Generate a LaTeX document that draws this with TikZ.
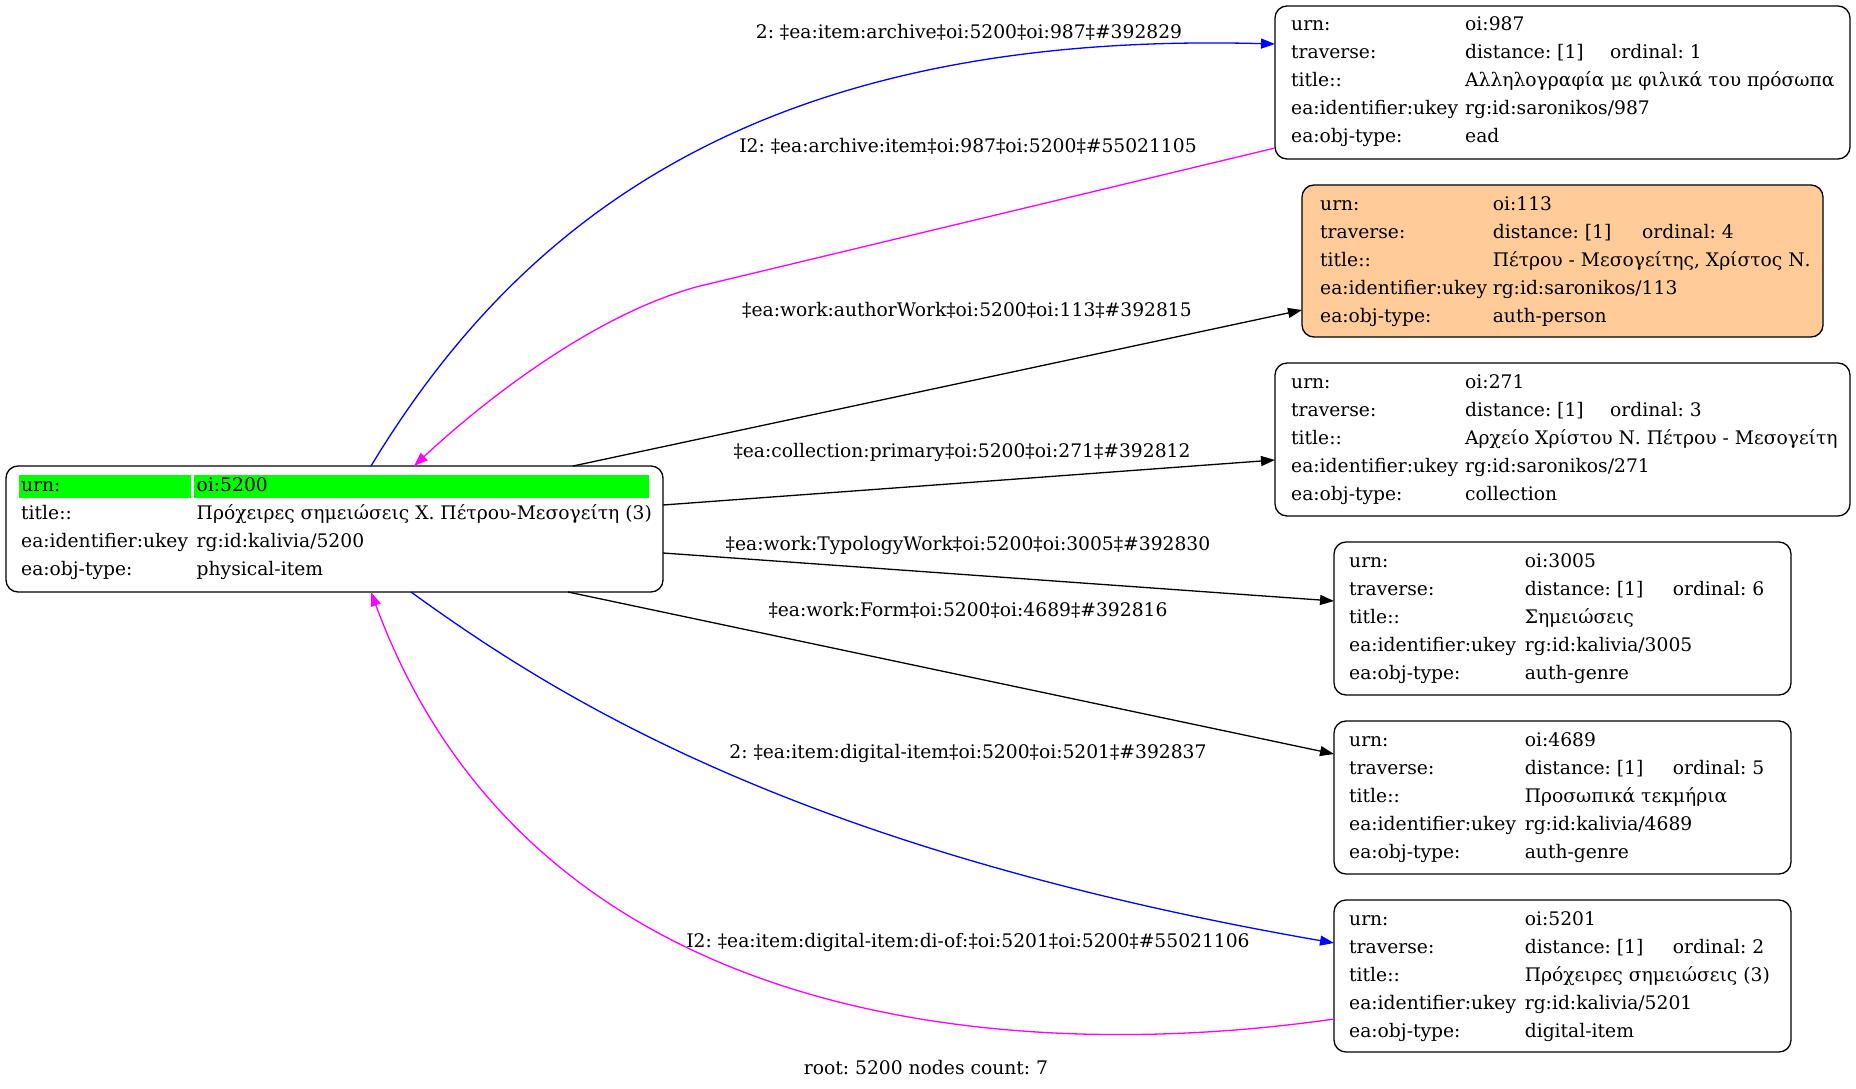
\documentclass[tikz,border=0pt]{standalone}
\usepackage{fontspec}
\setmainfont{DejaVu Serif}
\usetikzlibrary{arrows.meta,calc}
\definecolor{peach}{RGB}{255,204,153}
\definecolor{lime}{RGB}{0,255,0}
\definecolor{eblue}{RGB}{0,0,255}
\definecolor{emag}{RGB}{255,0,255}
\frenchspacing
\tikzset{
 rec/.style={draw=black, line width=1.3pt, rounded corners=12pt, anchor=north west, inner sep=0pt, outer sep=0pt},
 txt/.style={anchor=base west, inner sep=0pt, font=\fontsize{18.7pt}{22pt}\selectfont\frenchspacing},
 lbl/.style={inner sep=0pt, font=\fontsize{18.7pt}{22pt}\selectfont\frenchspacing},
 conn/.style={line width=1.3pt, -{Triangle[length=14pt,width=10pt]}},
}
\newcommand\LOff{16}
\newcommand\VOff{190}
\newcommand\rowt[4]{%
 \node[txt] at ($(#1.north west)+(\LOff,{25+28*#2})$) {#3};
 \node[txt] at ($(#1.north west)+(\VOff,{25+28*#2})$) {#4};
}
\newcommand\ordt[3]{%
 \node[txt] at ($(#1.north west)+(#2,53)$) {#3};
}
\begin{document}
\begin{tikzpicture}[x=1pt,y=-1pt]
\useasboundingbox (0,0) rectangle (1856,1089);
% boxes
\node[rec, minimum width=657pt, minimum height=126pt] (main) at (6,466) {};
\node[rec, minimum width=575pt, minimum height=153pt] (n987) at (1275,6) {};
\node[rec, fill=peach, minimum width=521pt, minimum height=152pt] (n113) at (1302,185) {};
\node[rec, minimum width=575pt, minimum height=153pt] (n271) at (1275,363) {};
\node[rec, minimum width=457pt, minimum height=153pt] (n3005) at (1334,542) {};
\node[rec, minimum width=457pt, minimum height=153pt] (n4689) at (1334,721) {};
\node[rec, minimum width=457pt, minimum height=152pt] (n5201) at (1334,900) {};
% main content
\fill[lime] ($(main.north west)+(13,9)$) rectangle ($(main.north west)+(184.5,32)$);
\fill[lime] ($(main.north west)+(188,9)$) rectangle ($(main.north west)+(643,32)$);
\renewcommand\LOff{15}\renewcommand\VOff{190.5}
\rowt{main}{0}{urn:}{oi:5200}
\rowt{main}{1}{title::}{Πρόχειρες σημειώσεις Χ. Πέτρου-Μεσογείτη (3)}
\rowt{main}{2}{ea:identifier:ukey}{rg:id:kalivia/5200}
\rowt{main}{3}{ea:obj-type:}{physical-item}
% 987
\renewcommand\LOff{16}\renewcommand\VOff{190}
\rowt{n987}{0}{urn:}{oi:987}
\rowt{n987}{1}{traverse:}{distance: [1]}
\ordt{n987}{335}{ordinal: 1}
\rowt{n987}{2}{title::}{Αλληλογραφία με φιλικά του πρόσωπα}
\rowt{n987}{3}{ea:identifier:ukey}{rg:id:saronikos/987}
\rowt{n987}{4}{ea:obj-type:}{ead}
% 113
\renewcommand\LOff{18}\renewcommand\VOff{190.6}
\rowt{n113}{0}{urn:}{oi:113}
\rowt{n113}{1}{traverse:}{distance: [1]}
\ordt{n113}{340}{ordinal: 4}
\rowt{n113}{2}{title::}{Πέτρου - Μεσογείτης, Χρίστος Ν.}
\rowt{n113}{3}{ea:identifier:ukey}{rg:id:saronikos/113}
\rowt{n113}{4}{ea:obj-type:}{auth-person}
% 271
\renewcommand\LOff{16}\renewcommand\VOff{190}
\rowt{n271}{0}{urn:}{oi:271}
\rowt{n271}{1}{traverse:}{distance: [1]}
\ordt{n271}{335}{ordinal: 3}
\rowt{n271}{2}{title::}{Αρχείο Χρίστου Ν. Πέτρου - Μεσογείτη}
\rowt{n271}{3}{ea:identifier:ukey}{rg:id:saronikos/271}
\rowt{n271}{4}{ea:obj-type:}{collection}
% 3005
\renewcommand\LOff{15}\renewcommand\VOff{190.6}
\rowt{n3005}{0}{urn:}{oi:3005}
\rowt{n3005}{1}{traverse:}{distance: [1]}
\ordt{n3005}{338.6}{ordinal: 6}
\rowt{n3005}{2}{title::}{Σημειώσεις}
\rowt{n3005}{3}{ea:identifier:ukey}{rg:id:kalivia/3005}
\rowt{n3005}{4}{ea:obj-type:}{auth-genre}
% 4689
\rowt{n4689}{0}{urn:}{oi:4689}
\rowt{n4689}{1}{traverse:}{distance: [1]}
\ordt{n4689}{338.6}{ordinal: 5}
\rowt{n4689}{2}{title::}{Προσωπικά τεκμήρια}
\rowt{n4689}{3}{ea:identifier:ukey}{rg:id:kalivia/4689}
\rowt{n4689}{4}{ea:obj-type:}{auth-genre}
% 5201
\rowt{n5201}{0}{urn:}{oi:5201}
\rowt{n5201}{1}{traverse:}{distance: [1]}
\ordt{n5201}{338.6}{ordinal: 2}
\rowt{n5201}{2}{title::}{Πρόχειρες σημειώσεις (3)}
\rowt{n5201}{3}{ea:identifier:ukey}{rg:id:kalivia/5201}
\rowt{n5201}{4}{ea:obj-type:}{digital-item}
% connectors
\draw[conn, eblue] ($(main.north west)+(365,0)$) .. controls (520,220) and (760,30) .. ($(n987.north west)+(0,38)$);
\draw[conn, emag] ($(n987.north west)+(0,142)$) -- (700,286) .. controls (600,312) and (490,395) .. ($(main.north west)+(408,0)$);
\draw[conn] ($(main.north west)+(567,0)$) -- ($(n113.north west)+(0,125)$);
\draw[conn] ($(main.north east)+(0,39)$) -- ($(n271.north west)+(0,97)$);
\draw[conn] ($(main.north east)+(0,87)$) -- ($(n3005.north west)+(0,59)$);
\draw[conn] ($(main.south west)+(562,0)$) -- ($(n4689.north west)+(0,33)$);
\draw[conn, eblue] ($(main.south west)+(405,0)$) .. controls (560,700) and (800,850) .. ($(n5201.north west)+(0,43)$);
\draw[conn, emag] ($(n5201.north west)+(0,119)$) .. controls (1050,1060) and (540,1050) .. ($(main.south west)+(365,0)$);
% labels
\node[lbl] (l1) at (969,32) {2: ‡ea:item:archive‡oi:5200‡oi:987‡\#392829};
\node[lbl] (l2) at (968,146) {I2: ‡ea:archive:item‡oi:987‡oi:5200‡\#55021105};
\node[lbl] (l3) at (967,310) {‡ea:work:authorWork‡oi:5200‡oi:113‡\#392815};
\node[lbl] (l4) at (962,452) {‡ea:collection:primary‡oi:5200‡oi:271‡\#392812};
\node[lbl] (l5) at (968,545) {‡ea:work:TypologyWork‡oi:5200‡oi:3005‡\#392830};
\node[lbl] (l6) at (968,610) {‡ea:work:Form‡oi:5200‡oi:4689‡\#392816};
\node[lbl] (l7) at (968,753) {2: ‡ea:item:digital-item‡oi:5200‡oi:5201‡\#392837};
\node[lbl] (l8) at (968,942) {I2: ‡ea:item:digital-item:di-of:‡oi:5201‡oi:5200‡\#55021106};
\node[lbl] (foot) at (926,1068) {root: 5200 nodes count: 7};
\end{tikzpicture}
\end{document}
